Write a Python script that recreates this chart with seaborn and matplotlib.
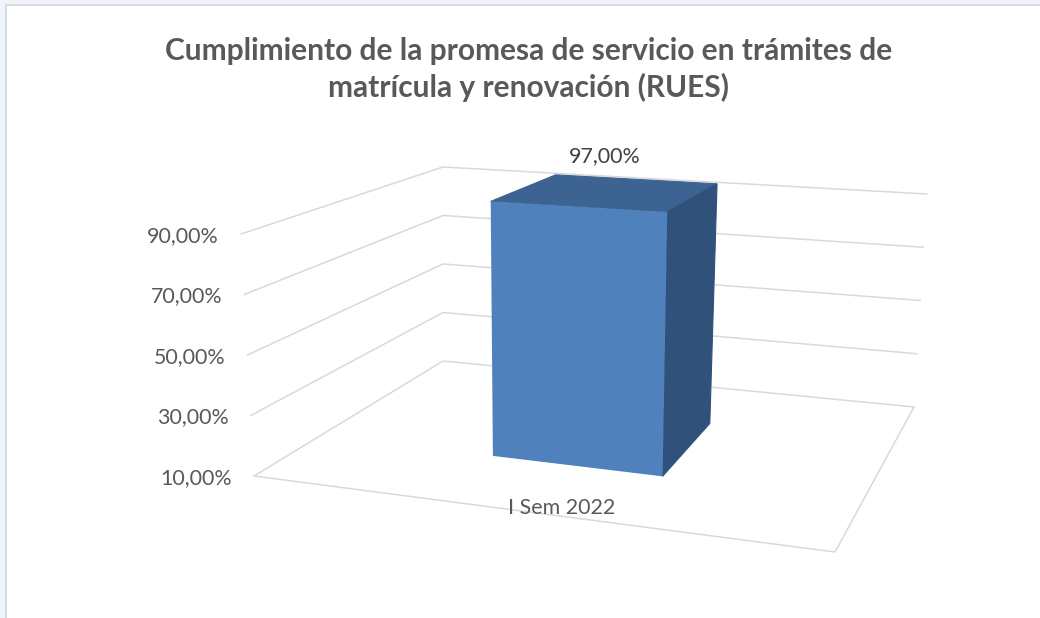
import numpy as np
import matplotlib
matplotlib.use("Agg")
import matplotlib.pyplot as plt
from matplotlib.patches import Polygon, Rectangle
from matplotlib.transforms import IdentityTransform, Transform
import seaborn as sns

# ------ Datos ------ #
titulo = "Cumplimiento de la promesa de servicio en trámites de\nmatrícula y renovación (RUES)"
periodos = ["I Sem 2022"]
valores = [97.0]
ticks = [10, 30, 50, 70, 90]

# ------ Perspectiva (esquinas de la caja en pixeles de la imagen) ------ #
W, H = 1040, 618
PISO = {"fi": (254, 476), "fd": (835, 552), "ti": (443, 361), "td": (914, 407)}
TECHO = {"fi": (241, 234), "fd": (846, 276), "ti": (443, 167), "td": (927, 194)}
X_MIN, X_MAX = -0.4735, 0.5265
V_MIN, V_MAX = 10, 90
ANCHO_BARRA = 0.313
PROF_BARRA = (0.355, 0.75)


def plano(esquinas, s, d):
    s, d = np.asarray(s, float), np.asarray(d, float)
    fi, fd, ti, td = [np.array(esquinas[k], float) for k in ("fi", "fd", "ti", "td")]
    frente = np.multiply.outer(1 - s, fi) + np.multiply.outer(s, fd)
    fondo = np.multiply.outer(1 - s, ti) + np.multiply.outer(s, td)
    return frente * (1 - d)[..., None] + fondo * d[..., None]


# Pasa de (categoria, profundidad, valor) a pixeles de pantalla
def proyectar(x, d, v):
    x, d, v = np.asarray(x, float), np.asarray(d, float), np.asarray(v, float)
    s = (x - X_MIN) / (X_MAX - X_MIN)
    t = (np.maximum(v, V_MIN) - V_MIN) / (V_MAX - V_MIN)
    p = plano(PISO, s, d) * (1 - t)[..., None] + plano(TECHO, s, d) * t[..., None]
    p[..., 1] = H - p[..., 1]
    return p


# Deja que la barra de seaborn se dibuje sobre el plano de profundidad d
class CaraFrontal(Transform):
    input_dims = 2
    output_dims = 2
    is_separable = False
    has_inverse = False

    def __init__(self, d):
        super().__init__()
        self.d = d

    def transform_non_affine(self, values):
        values = np.asarray(values, float)
        return proyectar(values[:, 0], np.full(len(values), self.d), values[:, 1])


def pct(v):
    return f"{v:.2f}".replace(".", ",") + "%"


def fx(px):
    return px / W


def fy(py):
    return 1 - py / H


sns.set_theme(style="white")
plt.rcParams["font.family"] = ["Lato", "DejaVu Sans"]

fig = plt.figure(figsize=(W / 100, H / 100), dpi=100, facecolor="#EEF4F9")
fig.add_artist(Rectangle((fx(6), -0.1), 1.1, fy(5.5) + 0.1, transform=fig.transFigure,
                         facecolor="white", edgecolor="#D9D9D9", linewidth=1.3, zorder=-1))
ax = fig.add_axes([0, 0, 1, 1])

sns.barplot(x=periodos, y=valores, width=ANCHO_BARRA, color="#4F81BD", saturation=1, ax=ax)
ax.set_xlim(X_MIN, X_MAX)
ax.set_ylim(V_MIN, V_MAX)
ax.set_axis_off()

# Rejilla: paredes y piso
gris = "#D9D9D9"
for t in ticks:
    pts = proyectar([X_MIN, X_MIN, X_MAX], [0, 1, 1], [t, t, t])
    ax.plot(pts[:, 0], pts[:, 1], color=gris, lw=1.1, transform=IdentityTransform(),
            clip_on=False, zorder=1)
    ax_px = proyectar(X_MIN, 0.0, float(t))
    fig.text(ax_px[0] / W - 22 / W, ax_px[1] / H - 2 / H, pct(t), ha="right", va="center",
             fontsize=15.4, color="#595959")
piso = proyectar([X_MIN, X_MAX, X_MAX], [0, 0, 1], [V_MIN] * 3)
ax.plot(piso[:, 0], piso[:, 1], color=gris, lw=1.1, transform=IdentityTransform(),
        clip_on=False, zorder=1)

# Caras de la barra
d0, d1 = PROF_BARRA
for barra, valor in zip(ax.patches, valores):
    x0, x1 = barra.get_x(), barra.get_x() + barra.get_width()
    barra.set_transform(CaraFrontal(d0))
    barra.set_clip_on(False)
    barra.set_zorder(3)
    barra.set_linewidth(0)
    lado = proyectar([x1, x1, x1, x1], [d0, d1, d1, d0], [V_MIN, V_MIN, valor, valor])
    tapa = proyectar([x0, x1, x1, x0], [d0, d0, d1, d1], [valor] * 4)
    # el borde fino del mismo color tapa la rendija clara entre caras
    ax.add_patch(Polygon(lado, closed=True, facecolor="#30527A", edgecolor="#30527A", lw=0.8,
                         transform=IdentityTransform(), clip_on=False, zorder=2.1))
    ax.add_patch(Polygon(tapa, closed=True, facecolor="#3C6391", edgecolor="#3C6391", lw=0.8,
                         transform=IdentityTransform(), clip_on=False, zorder=2))
    fig.text(fx(605), fy(156), pct(valor), ha="center", va="center", fontsize=15.4, color="#404040")

fig.text(fx(562), fy(508), periodos[0], ha="center", va="center", fontsize=15.4, color="#595959")
fig.text(fx(529), fy(69.5), titulo, ha="center", va="center", fontsize=21.5, fontweight="bold",
         color="#595959", linespacing=1.36)

fig.savefig("out.png", dpi=100, facecolor=fig.get_facecolor())
